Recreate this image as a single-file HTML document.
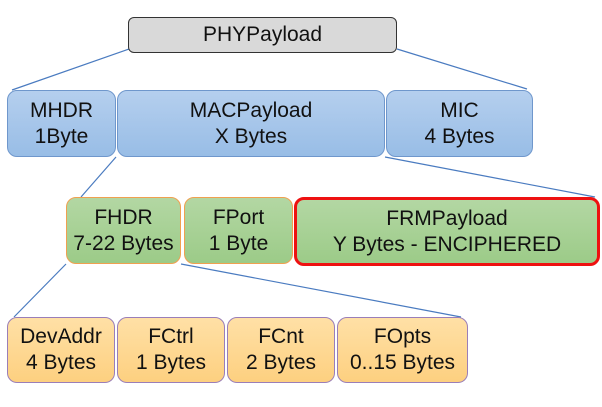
<!DOCTYPE html>
<html><head><style>
body{margin:0;background:#fff;width:602px;height:407px;position:relative;overflow:hidden;font-family:"Liberation Sans",sans-serif;}
.b{position:absolute;box-sizing:border-box;border-radius:10px;display:flex;flex-direction:column;align-items:center;justify-content:center;text-align:center;font-size:21px;line-height:26px;color:#111;}
.blue{background:linear-gradient(#b5cfee,#98bde6);border:1px solid #6f97cc;}
.green{background:linear-gradient(#b3d7a3,#9ccb88);border:1px solid #f0a050;}
.org{background:linear-gradient(#ffe0a6,#fdd080);border:1px solid #9a7eb8;}
</style></head><body>
<svg width="602" height="407" style="position:absolute;left:0;top:0">
<g stroke="#4a7bc0" stroke-width="1.2" fill="none">
<line x1="129" y1="49" x2="12" y2="90"/>
<line x1="397" y1="49" x2="527" y2="89"/>
<line x1="116" y1="157" x2="81" y2="197"/>
<line x1="385" y1="157" x2="595" y2="197"/>
<line x1="66" y1="264" x2="14" y2="317"/>
<line x1="181" y1="264" x2="461" y2="317"/>
</g></svg>
<div class="b" style="left:128px;top:17px;width:269px;height:36px;background:#d9d9d9;border:1px solid #333;border-radius:6px;">PHYPayload</div>
<div class="b blue" style="left:7px;top:90px;width:109px;height:67px;">MHDR<br>1Byte</div>
<div class="b blue" style="left:117px;top:90px;width:268px;height:67px;">MACPayload<br>X Bytes</div>
<div class="b blue" style="left:386px;top:90px;width:147px;height:67px;">MIC<br>4 Bytes</div>
<div class="b green" style="left:66px;top:197px;width:115px;height:67px;">FHDR<br>7-22 Bytes</div>
<div class="b green" style="left:184px;top:197px;width:109px;height:67px;">FPort<br>1 Byte</div>
<div class="b green" style="left:294px;top:197px;width:306px;height:69px;border:3px solid #ee1111;">FRMPayload<br>Y Bytes - ENCIPHERED</div>
<div class="b org" style="left:7px;top:317px;width:108px;height:66px;">DevAddr<br>4 Bytes</div>
<div class="b org" style="left:117px;top:317px;width:108px;height:66px;">FCtrl<br>1 Bytes</div>
<div class="b org" style="left:227px;top:317px;width:108px;height:66px;">FCnt<br>2 Bytes</div>
<div class="b org" style="left:337px;top:317px;width:131px;height:66px;">FOpts<br>0..15 Bytes</div>
</body></html>
